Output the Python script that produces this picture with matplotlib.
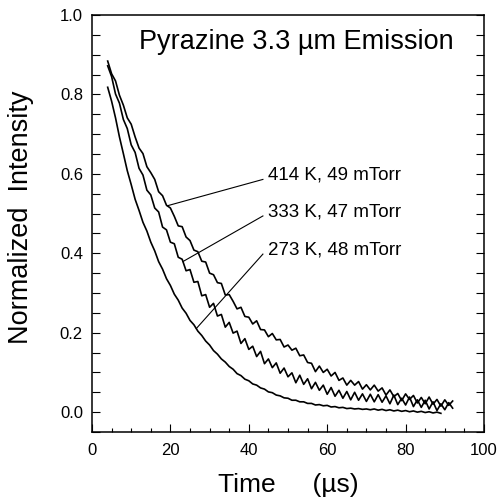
import numpy as np
import matplotlib
matplotlib.use("Agg")
import matplotlib.pyplot as plt
from matplotlib.ticker import MultipleLocator

plt.rcParams['font.family'] = ['Liberation Sans', 'DejaVu Sans']

# time axis (µs), sampled every 1 µs
time_us = list(range(4, 93))
time_273 = list(range(4, 90))

int_414K = [0.884, 0.852, 0.834, 0.798, 0.773, 0.741, 0.725, 0.693, 0.665, 0.651,
            0.618, 0.603, 0.586, 0.555, 0.545, 0.521, 0.514, 0.493, 0.469, 0.467,
            0.441, 0.432, 0.408, 0.404, 0.380, 0.378, 0.350, 0.346, 0.326, 0.324,
            0.295, 0.296, 0.279, 0.260, 0.264, 0.241, 0.239, 0.222, 0.230, 0.208,
            0.207, 0.190, 0.198, 0.182, 0.183, 0.164, 0.169, 0.156, 0.161, 0.142,
            0.144, 0.125, 0.123, 0.102, 0.116, 0.100, 0.108, 0.091, 0.100, 0.080,
            0.086, 0.068, 0.080, 0.068, 0.077, 0.058, 0.069, 0.056, 0.068, 0.053,
            0.061, 0.043, 0.056, 0.039, 0.047, 0.029, 0.046, 0.032, 0.042, 0.023,
            0.037, 0.021, 0.038, 0.020, 0.032, 0.015, 0.031, 0.017, 0.028]

int_333K = [0.872, 0.845, 0.801, 0.778, 0.737, 0.714, 0.673, 0.654, 0.614, 0.597,
            0.559, 0.547, 0.514, 0.504, 0.466, 0.459, 0.428, 0.424, 0.390, 0.385,
            0.356, 0.359, 0.327, 0.329, 0.293, 0.296, 0.264, 0.274, 0.242, 0.246,
            0.214, 0.226, 0.199, 0.204, 0.173, 0.185, 0.158, 0.166, 0.140, 0.153,
            0.122, 0.134, 0.112, 0.124, 0.098, 0.111, 0.089, 0.099, 0.074, 0.093,
            0.070, 0.084, 0.059, 0.075, 0.055, 0.068, 0.045, 0.062, 0.040, 0.055,
            0.035, 0.052, 0.031, 0.050, 0.030, 0.046, 0.027, 0.045, 0.026, 0.044,
            0.025, 0.041, 0.021, 0.043, 0.019, 0.035, 0.018, 0.038, 0.014, 0.031,
            0.012, 0.030, 0.008, 0.026, 0.004, 0.021, 0.006, 0.024, 0.010]

int_273K = [0.818, 0.783, 0.741, 0.693, 0.651, 0.608, 0.573, 0.536, 0.508, 0.478,
            0.456, 0.428, 0.406, 0.379, 0.360, 0.336, 0.319, 0.297, 0.282, 0.262,
            0.249, 0.231, 0.220, 0.204, 0.193, 0.179, 0.169, 0.155, 0.146, 0.134,
            0.126, 0.115, 0.108, 0.097, 0.092, 0.083, 0.079, 0.071, 0.068, 0.061,
            0.058, 0.051, 0.049, 0.043, 0.041, 0.036, 0.035, 0.030, 0.030, 0.026,
            0.026, 0.022, 0.022, 0.018, 0.019, 0.016, 0.017, 0.013, 0.014, 0.011,
            0.012, 0.009, 0.010, 0.008, 0.009, 0.007, 0.008, 0.006, 0.008, 0.005,
            0.007, 0.004, 0.006, 0.003, 0.005, 0.002, 0.004, 0.001, 0.003, 0.000,
            0.002, -0.001, 0.001, -0.002, 0.000, -0.003]

labels = ["414 K, 49 mTorr", "333 K, 47 mTorr", "273 K, 48 mTorr"]
label_y = [0.596, 0.504, 0.408]
pointer_t = [19.2, 23.2, 26.6]

x_ticks = [0, 20, 40, 60, 80, 100]
y_ticks = [0.0, 0.2, 0.4, 0.6, 0.8, 1.0]

fig = plt.figure(figsize=(5.04, 5.00), dpi=100)
ax = fig.add_axes([92/504, 1-432/500, 392/504, 417/500])

series = [(time_us, int_414K), (time_us, int_333K), (time_273, int_273K)]
for t, y in series:
    ax.plot(t, y, color='black', lw=1.2)

for (t, y), lab, ly, pt in zip(series, labels, label_y, pointer_t):
    yv = float(np.interp(pt, t, y))
    ax.plot([pt, 43.6], [yv, ly - 0.01], color='black', lw=0.8)
    ax.text(44.9, ly, lab, fontsize=13.5, ha='left', va='center')

ax.text(0.522, 0.935, "Pyrazine 3.3 µm Emission", transform=ax.transAxes,
        fontsize=19.5, ha='center', va='center')

ax.set_xlim(0, 100)
ax.set_ylim(-0.05, 1.0)
ax.set_xticks(x_ticks)
ax.set_yticks(y_ticks)
ax.set_yticklabels([f"{v:.1f}" for v in y_ticks])
ax.xaxis.set_minor_locator(MultipleLocator(5))
ax.yaxis.set_minor_locator(MultipleLocator(0.05))
ax.tick_params(which='both', direction='in', left=True, right=True, bottom=True, top=False,
               labelsize=12, width=0.8)
ax.tick_params(axis='x', which='major', length=5.8, pad=8)
ax.tick_params(axis='x', which='minor', length=2.9)
ax.tick_params(axis='y', which='both', length=5.8, pad=6.5)
for s in ax.spines.values():
    s.set_linewidth(1.1)

ax.set_xlabel("Time     (µs)", fontsize=19)
ax.xaxis.set_label_coords(0.5, -0.098)
ax.set_ylabel("Normalized  Intensity", fontsize=19.5)
ax.yaxis.set_label_coords(-0.149, 0.514)

fig.savefig("out.png", dpi=100)
